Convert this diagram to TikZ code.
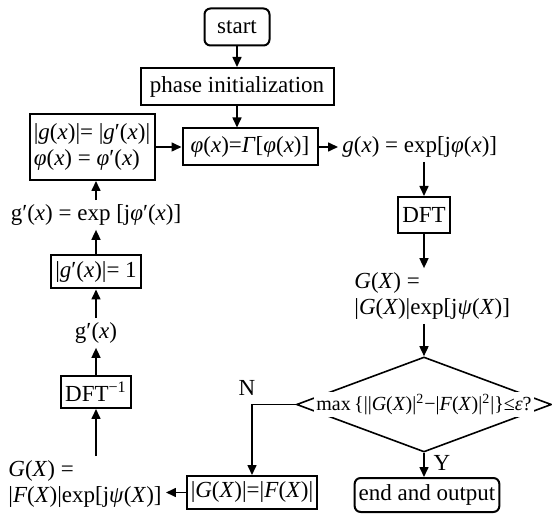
\documentclass[tikz,border=0pt]{standalone}
\usepackage{fontspec}
\setmainfont{Liberation Serif}
\usetikzlibrary{positioning,arrows.meta,shapes.geometric,calc}
\newcommand{\itv}[1]{\textit{#1}}
\tikzset{
  gsbox/.style={draw, line width=1pt, align=center, inner sep=2pt, minimum height=18.5pt},
  gsround/.style={gsbox, rounded corners=3pt},
  gslabel/.style={inner sep=2pt, align=left},
  gsarrow/.style={-{Triangle[length=5pt,width=4.5pt]}, line width=0.8pt},
  gsline/.style={line width=0.8pt},
}
\begin{document}
\begin{tikzpicture}[x=0.5pt, y=-0.5pt, font=\fontsize{11.5}{13}\selectfont,
    cond/.style={fill=white, inner sep=1pt, font=\fontsize{10}{12}\selectfont}]
  \useasboundingbox (0,0) rectangle (552,518);
  \node[gsround, minimum width=32.5pt] (start) at (237,27) {start};
  \node[gsbox, minimum width=96.5pt] (init) at (237,86.5) {phase initialization};
  \node[gsbox, minimum width=67.5pt] (gam) at (250,147) {\itv{φ}(\itv{x})=\itv{Γ}[\itv{φ}(\itv{x})]};
  \node[gsbox, align=left, minimum width=62.5pt, minimum height=33pt] (keep) at (92,147) {|\itv{g}(\itv{x})|= |\itv{g}′(\itv{x})|\\\itv{φ}(\itv{x}) = \itv{φ}′(\itv{x})};
  \node[gslabel, anchor=west] (gx) at (338,147) {\itv{g}(\itv{x}) = exp[j\itv{φ}(\itv{x})]};
  \node[gsbox, minimum width=24.5pt, minimum height=18pt] (dft) at (424,215) {DFT};
  \node[gslabel, anchor=west] (Gx) at (350,296) {\itv{G}(\itv{X}) =\\|\itv{G}(\itv{X})|exp[j\itv{ψ}(\itv{X})]};
  \node[draw, shape=diamond, gsline, minimum width=127.5pt, minimum height=47.5pt, inner sep=0pt] (test) at (424,404.5) {};
  \node[cond] (crit) at (test.center) {max\,\{||\itv{G}(\itv{X})|\textsuperscript{2}−|\itv{F}(\itv{X})|\textsuperscript{2}|\}≤\itv{ε}?};
  \node[gsround, minimum width=70.5pt, minimum height=17pt] (stop) at (427,495) {end and output};
  \node[gsbox, minimum width=63pt, minimum height=16.5pt] (mag) at (252,492.5) {|\itv{G}(\itv{X})|=|\itv{F}(\itv{X})|};
  \node[gslabel, anchor=west] (Fx) at (4,484) {\itv{G}(\itv{X}) =\\|\itv{F}(\itv{X})|exp[j\itv{ψ}(\itv{X})]};
  \node[gsbox, minimum width=32.5pt, minimum height=16pt] (idft) at (96,392) {DFT\textsuperscript{−1}};
  \node[gslabel] (gp) at (96,333) {g′(\itv{x})};
  \node[gsbox, minimum width=43.5pt, minimum height=16.5pt] (unit) at (96,272) {|\itv{g}′(\itv{x})|= 1};
  \node[gslabel] (gpx) at (96,215) {g′(\itv{x}) = exp [j\itv{φ}′(\itv{x})]};
  \node (no) at (247,388) {N};
  \node (yes) at (442,463) {Y};
  \draw[gsarrow] (start) -- (init);
  \draw[gsarrow] (init.south) -- (init.south |- gam.north);
  \draw[gsarrow] (keep) -- (gam);
  \draw[gsarrow] (gam) -- (gx);
  \draw[gsarrow] (gx.south -| dft.north) -- (dft.north);
  \draw[gsarrow] (dft) -- (dft |- Gx.north);
  \draw[gsarrow] (Gx.south -| test.north) -- (test.north);
  \draw[gsarrow] (test.south) -- (test.south |- stop.north);
  \draw[gsarrow] (test.west) -| (mag.north);
  \draw[gsarrow] (mag.west) -- (mag.west -| Fx.east);
  \draw[gsarrow] (Fx.north -| idft.south) -- (idft.south);
  \draw[gsarrow] (idft) -- (gp);
  \draw[gsarrow] (gp) -- (unit);
  \draw[gsarrow] (unit) -- (gpx);
  \draw[gsarrow] (gpx.north) -- (gpx.north |- keep.south);
\end{tikzpicture}
\end{document}
